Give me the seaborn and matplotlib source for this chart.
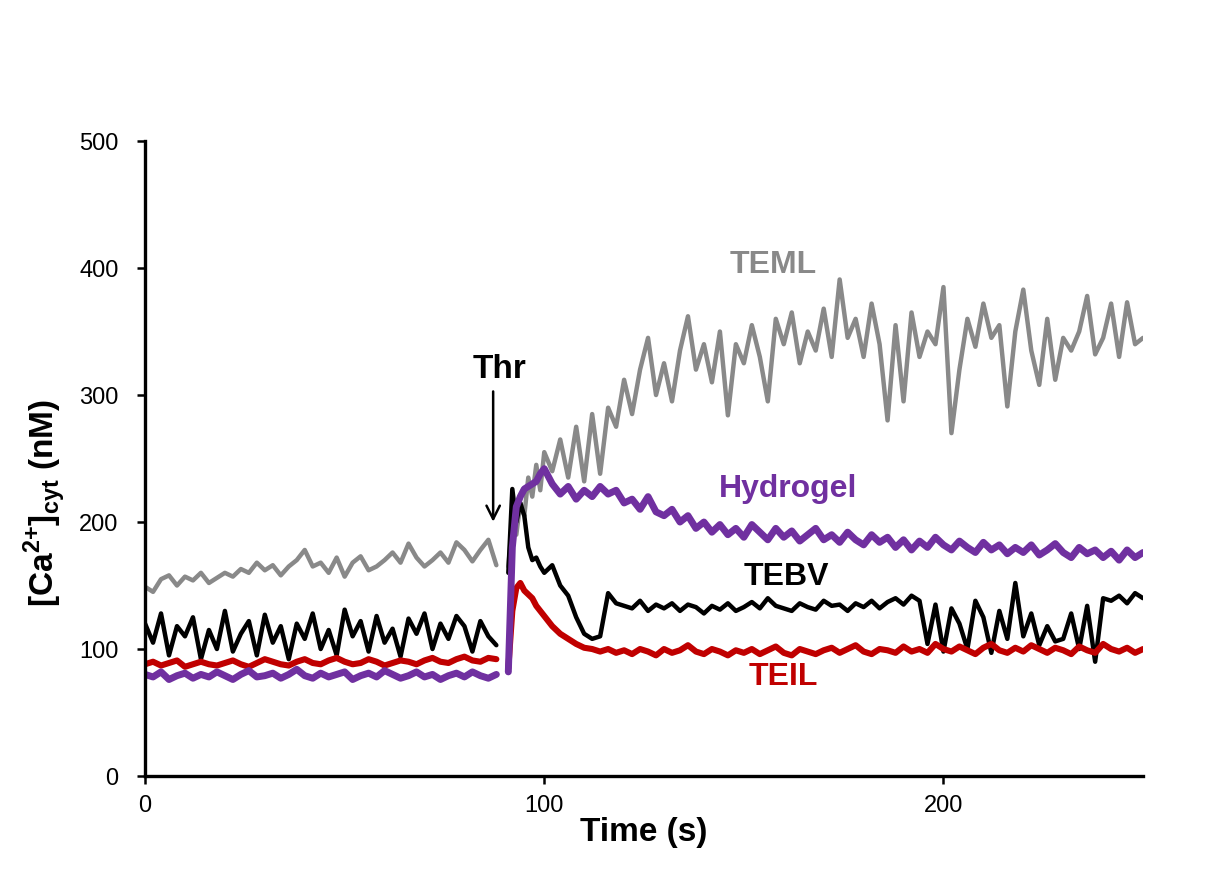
import numpy as np
import pandas as pd
import seaborn as sns
import matplotlib
matplotlib.use("Agg")
import matplotlib.pyplot as plt

# time grids (s): before thrombin and after thrombin
t_pre = np.arange(0, 89, 2)
t_post = np.concatenate([[91, 92, 93, 94, 95, 96, 97, 98, 99], np.arange(100, 251, 2)])

# [Ca2+]cyt (nM)
teml_pre = [149, 145, 155, 158, 150, 157, 154, 160, 152, 156,
            160, 157, 163, 160, 168, 162, 166, 158, 165, 170,
            178, 165, 168, 160, 172, 157, 168, 173, 162, 165,
            170, 176, 168, 183, 172, 165, 170, 176, 168, 184,
            178, 169, 178, 186, 166]
tebv_pre = [120, 105, 128, 95, 118, 110, 125, 92, 115, 100,
            130, 98, 112, 122, 95, 127, 105, 118, 92, 120,
            108, 128, 100, 115, 95, 131, 110, 122, 98, 126,
            105, 116, 94, 124, 112, 128, 100, 120, 108, 126,
            118, 98, 122, 110, 103]
teil_pre = [88, 90, 87, 89, 91, 86, 88, 90, 88, 87,
            89, 91, 88, 86, 89, 92, 90, 88, 87, 90,
            92, 89, 88, 91, 93, 90, 88, 89, 92, 90,
            87, 89, 91, 90, 88, 91, 93, 90, 89, 92,
            94, 91, 90, 93, 92]
hydrogel_pre = [80, 78, 82, 76, 79, 81, 77, 80, 78, 82,
                79, 76, 80, 83, 78, 79, 81, 77, 80, 84,
                79, 77, 81, 78, 80, 82, 76, 79, 81, 78,
                83, 80, 77, 79, 82, 78, 80, 76, 79, 81,
                78, 82, 79, 77, 80]

teml_post = [165, 200, 190, 215, 205, 235, 220, 245, 225,
             255, 240, 265, 235, 275, 232, 285, 238, 290, 275,
             312, 285, 320, 345, 300, 325, 295, 335, 362, 320,
             340, 310, 350, 284, 340, 325, 355, 330, 295, 360,
             340, 365, 325, 350, 335, 368, 330, 391, 345, 360,
             330, 372, 340, 280, 355, 295, 365, 330, 350, 340,
             385, 270, 320, 360, 338, 372, 345, 355, 291, 350,
             383, 335, 308, 360, 312, 345, 335, 350, 378, 332,
             345, 372, 330, 373, 340, 345]
tebv_post = [160, 226, 200, 215, 205, 180, 170, 172, 165,
             160, 166, 150, 142, 125, 112, 108, 110, 144, 136,
             134, 132, 138, 130, 135, 132, 136, 130, 135, 133,
             128, 134, 131, 136, 130, 133, 137, 132, 140, 134,
             132, 130, 136, 133, 131, 138, 134, 135, 130, 136,
             133, 138, 132, 137, 140, 135, 142, 138, 104, 135,
             98, 132, 120, 100, 138, 125, 97, 130, 108, 152,
             110, 128, 103, 118, 106, 108, 128, 100, 134, 90,
             140, 138, 142, 136, 144, 140]
teil_post = [85, 130, 148, 152, 146, 143, 140, 134, 130,
             126, 118, 112, 108, 104, 101, 100, 98, 100, 97,
             99, 96, 100, 98, 95, 100, 97, 99, 103, 98,
             96, 100, 98, 95, 99, 97, 100, 96, 99, 102,
             97, 95, 100, 98, 96, 99, 101, 97, 100, 103,
             98, 96, 100, 99, 97, 102, 98, 100, 97, 104,
             100, 98, 102, 99, 96, 101, 104, 99, 97, 101,
             98, 103, 100, 97, 101, 99, 96, 102, 99, 97,
             104, 100, 98, 101, 97, 100]
hydrogel_post = [82, 180, 212, 220, 226, 228, 230, 232, 238,
                 242, 230, 222, 228, 218, 225, 220, 228, 222, 225,
                 215, 218, 210, 220, 208, 205, 210, 200, 205, 195,
                 200, 192, 198, 190, 195, 188, 198, 192, 186, 195,
                 188, 193, 185, 190, 195, 186, 190, 184, 192, 186,
                 182, 190, 184, 188, 180, 186, 178, 185, 180, 188,
                 182, 178, 185, 180, 176, 184, 178, 182, 175, 180,
                 176, 182, 174, 178, 183, 176, 172, 180, 175, 178,
                 172, 177, 170, 178, 172, 176]

series = ["TEML", "TEBV", "TEIL", "Hydrogel"]
colors = {"TEML": "#898989", "TEBV": "#000000", "TEIL": "#C00000", "Hydrogel": "#7030A0"}
widths = {"TEML": 3.2, "TEBV": 3.2, "TEIL": 4.4, "Hydrogel": 5.0}
pre_vals = [teml_pre, tebv_pre, teil_pre, hydrogel_pre]
post_vals = [teml_post, tebv_post, teil_post, hydrogel_post]

frames = []
for name, pre, post in zip(series, pre_vals, post_vals):
    frames.append(pd.DataFrame({"time": t_pre, "ca": pre, "trace": name, "seg": "pre"}))
    frames.append(pd.DataFrame({"time": t_post, "ca": post, "trace": name, "seg": "post"}))
df = pd.concat(frames, ignore_index=True)

sns.set_style("white", {"text.color": "black", "axes.labelcolor": "black",
                        "xtick.color": "black", "ytick.color": "black",
                        "axes.edgecolor": "black"})
plt.rcParams["font.family"] = ["Liberation Sans", "DejaVu Sans"]
plt.rcParams["mathtext.fontset"] = "custom"
plt.rcParams["mathtext.rm"] = "Liberation Sans"
plt.rcParams["mathtext.bf"] = "Liberation Sans:bold"

fig = plt.figure(figsize=(12.22, 8.88), dpi=100)
ax = fig.add_axes([0.1187, 0.1261, 0.8167, 0.7151])

sns.lineplot(data=df, x="time", y="ca", hue="trace", size="trace", units="seg", estimator=None,
             hue_order=series, palette=colors, sizes=widths, size_order=series,
             legend=False, ax=ax)

# labels on the traces
lab = dict(fontsize=23, fontweight="bold", ha="center", va="center")
ax.text(157.4, 402, "TEML", color=colors["TEML"], **lab)
ax.text(161, 226, "Hydrogel", color=colors["Hydrogel"], **lab)
ax.text(160.6, 157, "TEBV", color="black", **lab)
ax.text(160, 78, "TEIL", color=colors["TEIL"], **lab)

# thrombin addition
ax.text(88.7, 320, "Thr", fontsize=24, fontweight="bold", ha="center", va="center")
ax.annotate("", xy=(87.2, 198), xytext=(87.2, 305),
            arrowprops=dict(arrowstyle="->", color="black", lw=1.8, mutation_scale=24))

ax.set_xlim(0, 250)
ax.set_ylim(0, 500)
ax.set_xticks([0, 100, 200])
ax.set_yticks([0, 100, 200, 300, 400, 500])
ax.set_xlabel("Time (s)", fontsize=24, fontweight="bold", labelpad=0)
ax.set_ylabel(r"[Ca$^{\mathbf{2{+}}}$]$_{\mathbf{cyt}}$ (nM)", fontsize=24, fontweight="bold")
ax.yaxis.set_label_coords(-0.078, 0.43)
ax.tick_params(axis="both", labelsize=17, direction="out", length=6, width=1.8, left=True, bottom=True)
ax.tick_params(axis="y", pad=13)
ax.tick_params(axis="x", pad=8)
sns.despine(ax=ax)
for s in ["left", "bottom"]:
    ax.spines[s].set_linewidth(2.4)

fig.savefig("out.png", dpi=100, facecolor="white")
